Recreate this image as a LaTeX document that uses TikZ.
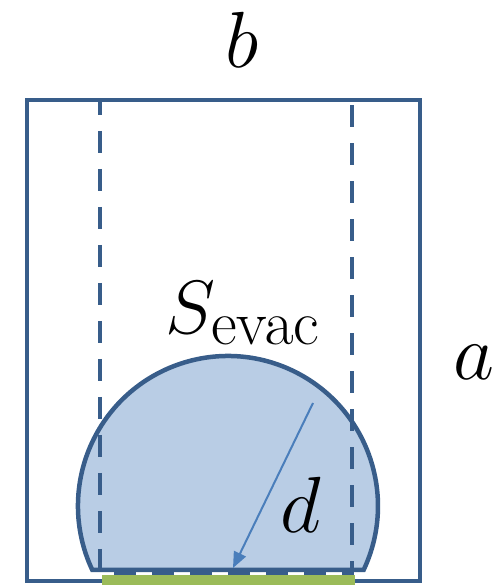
\documentclass[tikz,border=0pt]{standalone}
\usetikzlibrary{arrows.meta, calc}
\usepackage{xcolor}
\definecolor{frameblue}{HTML}{385D8A}
\definecolor{zonefill}{HTML}{B9CDE5}
\definecolor{arrowblue}{HTML}{4A7EBB}
\definecolor{exitgreen}{HTML}{9BBB59}

\tikzset{
  frame/.style={draw=frameblue, line width=4.5pt},
  bigmath/.style={inner sep=0pt, font=\Huge, scale=3.2},
}

\begin{document}
\begin{tikzpicture}[x=1pt, y=1pt]
  \useasboundingbox (0,0) rectangle (495,585);
  % room
  \draw[frame] (27,485) rectangle (420,4);
  % evacuation zone
  \draw[frame, fill=zonefill] (363.6,15) arc[start angle=-25.26, end angle=205.26, radius=150] -- cycle;
  % corridor
  \draw[frame, dash pattern=on 22pt off 16pt, dash phase=7pt] (100,485) -- (100,12) -- (352,12) -- (352,485);
  % exit
  \fill[exitgreen] (102,0) rectangle (355,10);
  % radius
  \coordinate (from) at (313,182);
  \coordinate (to) at (233,17);
  \draw[arrowblue, line width=2pt, -{Triangle[length=16pt, width=13pt]}] (from) -- (to);
  % labels
  \node[bigmath] (width) at (242,545) {$b$};
  \node[bigmath] (height) at (474,223) {$a$};
  \node[bigmath, scale=0.95] (area) at (243,272) {$S_{\mathrm{evac}}$};
  \node[bigmath] (dist) at (301,80) {$d$};
\end{tikzpicture}
\end{document}
